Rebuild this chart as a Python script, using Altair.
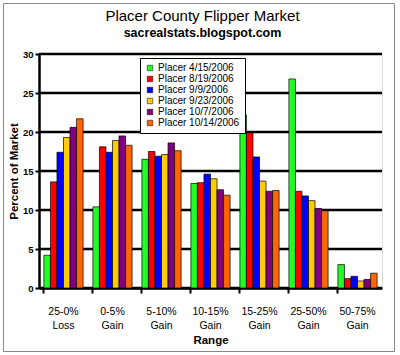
import altair as alt
import pandas as pd

ranges = ["25-0% Loss", "0-5% Gain", "5-10% Gain", "10-15% Gain", "15-25% Gain", "25-50% Gain", "50-75% Gain"]
series = ["Placer 4/15/2006", "Placer 8/19/2006", "Placer 9/9/2006", "Placer 9/23/2006", "Placer 10/7/2006", "Placer 10/14/2006"]
colors = ["#22FF22", "#FF0000", "#0000FF", "#FFCC00", "#800080", "#FF6600"]
y_ticks = [0, 5, 10, 15, 20, 25, 30]

v_0415 = [4.2, 10.4, 16.5, 13.4, 22.2, 26.8, 3.0]
v_0819 = [13.6, 18.1, 17.5, 13.5, 19.9, 12.4, 1.2]
v_0909 = [17.4, 17.4, 16.9, 14.6, 16.8, 11.8, 1.5]
v_0923 = [19.3, 18.9, 17.1, 14.0, 13.7, 11.2, 0.9]
v_1007 = [20.6, 19.5, 18.6, 12.6, 12.4, 10.2, 1.1]
v_1014 = [21.7, 18.3, 17.6, 11.9, 12.5, 9.9, 1.9]

values = [v_0415, v_0819, v_0909, v_0923, v_1007, v_1014]
rows = []
for s, vals in zip(series, values):
    for r, v in zip(ranges, vals):
        rows.append({"Range": r, "Series": s, "Value": v})
df = pd.DataFrame(rows)

FONT = "Liberation Sans"
yscale = alt.Scale(domain=[0, 30], nice=False)

grid = alt.Chart(pd.DataFrame({"Value": y_ticks})).transform_calculate(
    lo="datum.Value - 0.15", hi="datum.Value + 0.15"
).mark_rect(color="#000000", opacity=1).encode(
    y=alt.Y("lo:Q", scale=yscale, axis=None),
    y2="hi:Q",
)

bars = alt.Chart(df).mark_bar(stroke="black", strokeWidth=0.7).encode(
    x=alt.X("Range:N", sort=ranges, title="Range",
            scale=alt.Scale(paddingInner=0.2, paddingOuter=0.1),
            axis=alt.Axis(labelAngle=0, labelExpr="split(datum.label, ' ')",
                          bandPosition=0, tickSize=5, tickWidth=2, tickColor="black",
                          domainColor="black", domainWidth=2.5,
                          labelFont=FONT, labelFontSize=10.5, labelColor="black",
                          labelPadding=13, labelLineHeight=14,
                          titleFont=FONT, titleFontSize=11.5, titleFontWeight="bold",
                          titleColor="black", titlePadding=4)),
    xOffset=alt.XOffset("Series:N", sort=series, scale=alt.Scale(paddingInner=0, paddingOuter=0)),
    y=alt.Y("Value:Q", title="Percent of Market", scale=yscale,
            axis=alt.Axis(values=y_ticks, grid=False, tickSize=4, tickWidth=2, tickColor="black",
                          domainColor="black", domainWidth=2.5,
                          labelFont=FONT, labelFontSize=9.5, labelFontWeight="bold",
                          labelColor="black", labelPadding=2,
                          titleFont=FONT, titleFontSize=11.5, titleFontWeight="bold",
                          titleColor="black", titlePadding=3)),
    color=alt.Color("Series:N", sort=series,
                    scale=alt.Scale(domain=series, range=colors),
                    legend=alt.Legend(title=None, orient="none", legendX=101, legendY=4,
                                      fillColor="white", strokeColor="black",
                                      padding=5, symbolType="square", symbolSize=30,
                                      symbolStrokeColor="black", symbolStrokeWidth=0.5,
                                      labelFont=FONT, labelFontSize=10, labelColor="black",
                                      rowPadding=1, labelOffset=3)),
)

frame = alt.Chart(pd.DataFrame({"a": [0]})).mark_rect(
    fill=None, stroke="#888888", strokeWidth=1
).encode(x=alt.value(-35.5), x2=alt.value(355.5), y=alt.value(-50.5), y2=alt.value(297.5))

chart = alt.layer(frame, grid, bars).resolve_axis(y="independent").properties(
    width=343, height=234,
    title=alt.TitleParams("Placer County Flipper Market",
                          subtitle="sacrealstats.blogspot.com",
                          anchor="middle", dx=-8, offset=-36,
                          font=FONT, fontSize=15, fontWeight="normal", color="black",
                          subtitleFont=FONT, subtitleFontSize=12.5, subtitleFontWeight="bold",
                          subtitleColor="black", subtitlePadding=3),
    padding={"left": 39, "top": 54, "right": 18, "bottom": 67},
    autosize="none",
).configure_view(stroke="black", strokeWidth=2.5).configure_legend(strokeWidth=2).configure_axis(
    grid=False
).configure(background="white")

chart.save("out.html", embed_options={"renderer": "svg", "actions": False})
